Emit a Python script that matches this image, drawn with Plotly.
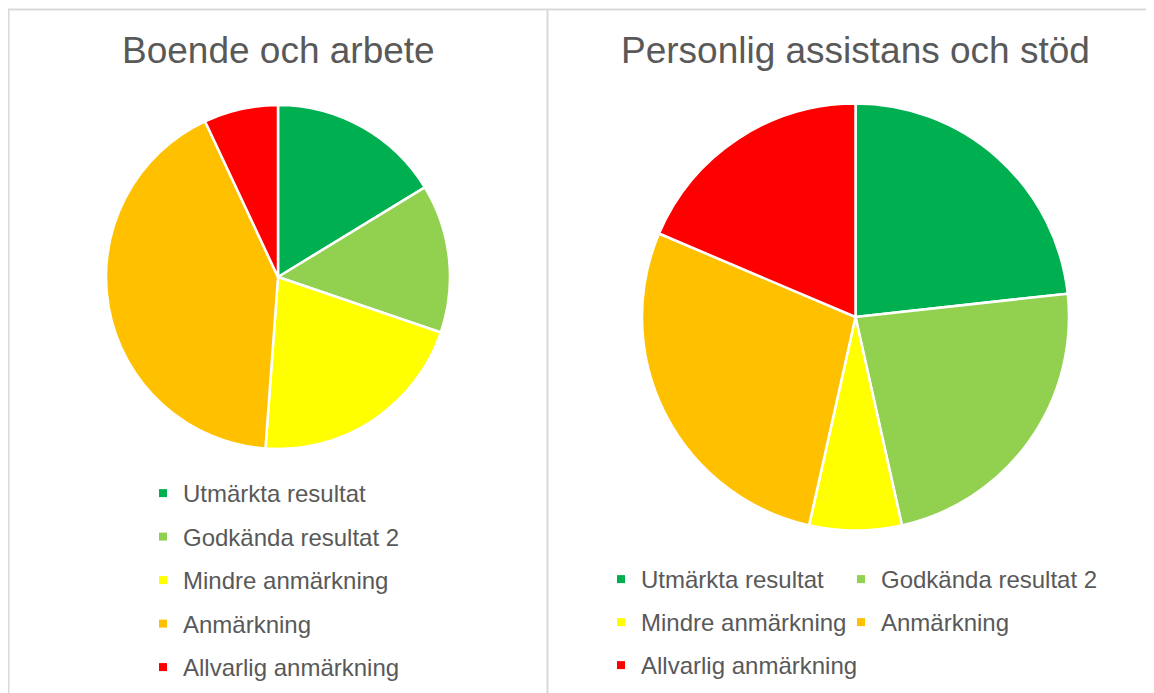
import plotly.graph_objects as go

OFF = 8  # page offset of the plot div inside the browser window
W, H = 1154 - OFF, 693 - OFF  # figure size so the page fits the window exactly

categories = ["Utmärkta resultat", "Godkända resultat 2", "Mindre anmärkning",
              "Anmärkning", "Allvarlig anmärkning"]
colors = ["#00B050", "#92D050", "#FFFF00", "#FFC000", "#FF0000"]

left_title = "Boende och arbete"
left_values = [7, 6, 9, 18, 3]

right_title = "Personlig assistans och stöd"
right_values = [10, 10, 3, 12, 8]

TEXT = "#595959"
FONT = "Liberation Sans, Arial, sans-serif"

def px_x(p):
    return (p - OFF) / W

def px_y(p):
    return 1 - (p - OFF) / H

fig = go.Figure()

fig.add_trace(go.Pie(
    labels=categories, values=left_values, sort=False, direction="clockwise",
    rotation=0, marker=dict(colors=colors, line=dict(color="white", width=2.5)),
    textinfo="none", showlegend=False,
    domain=dict(x=[px_x(106), px_x(450)], y=[px_y(449), px_y(105)]),
))
fig.add_trace(go.Pie(
    labels=categories, values=right_values, sort=False, direction="clockwise",
    rotation=0, marker=dict(colors=colors, line=dict(color="white", width=2.5)),
    textinfo="none", showlegend=False,
    domain=dict(x=[px_x(642), px_x(1069)], y=[px_y(530.5), px_y(103.5)]),
))

# legend entries (one per category)
right_cols = ["legend2", "legend3", "legend2", "legend3", "legend2"]
for i, (cat, col) in enumerate(zip(categories, colors)):
    fig.add_trace(go.Scatter(
        x=[None], y=[None], mode="markers", name=cat,
        marker=dict(symbol="square", size=8, color=col),
        legend="legend", legendgroup=f"a{i}", showlegend=True))
for i, (cat, col) in enumerate(zip(categories, colors)):
    fig.add_trace(go.Scatter(
        x=[None], y=[None], mode="markers", name=cat,
        marker=dict(symbol="square", size=8, color=col),
        legend=right_cols[i], legendgroup=f"b{i}", showlegend=True))

leg_common = dict(font=dict(family=FONT, size=24, color=TEXT),
                  bgcolor="rgba(0,0,0,0)", borderwidth=0,
                  orientation="v", traceorder="grouped",
                  xanchor="left", yanchor="top", itemclick=False)
fig.update_layout(
    legend=dict(x=px_x(143), y=px_y(471), tracegroupgap=9.3, **leg_common),
    legend2=dict(x=px_x(601), y=px_y(557), tracegroupgap=8.8, **leg_common),
    legend3=dict(x=px_x(841), y=px_y(557), tracegroupgap=8.8, **leg_common),
)

fig.update_xaxes(visible=False)
fig.update_yaxes(visible=False)

fig.add_annotation(text=left_title, x=px_x(278), y=px_y(51), xref="paper", yref="paper",
                   xanchor="center", yanchor="middle", showarrow=False,
                   font=dict(family=FONT, size=37, color=TEXT))
fig.add_annotation(text=right_title, x=px_x(855), y=px_y(51), xref="paper", yref="paper",
                   xanchor="center", yanchor="middle", showarrow=False,
                   font=dict(family=FONT, size=37, color=TEXT))

line_style = dict(color="#d9d9d9", width=2)
fig.add_shape(type="line", xref="paper", yref="paper", x0=px_x(8), x1=1,
              y0=px_y(9.5), y1=px_y(9.5), line=line_style)
fig.add_shape(type="line", xref="paper", yref="paper", x0=px_x(8.5), x1=px_x(8.5),
              y0=px_y(9.5), y1=0, line=line_style)
fig.add_shape(type="line", xref="paper", yref="paper", x0=px_x(547.5), x1=px_x(547.5),
              y0=px_y(9.5), y1=0, line=line_style)

fig.update_layout(
    width=W, height=H, margin=dict(l=0, r=0, t=0, b=0, autoexpand=False),
    paper_bgcolor="white", plot_bgcolor="white",
    font=dict(family=FONT, color=TEXT),
)

fig.write_html("out.html")
